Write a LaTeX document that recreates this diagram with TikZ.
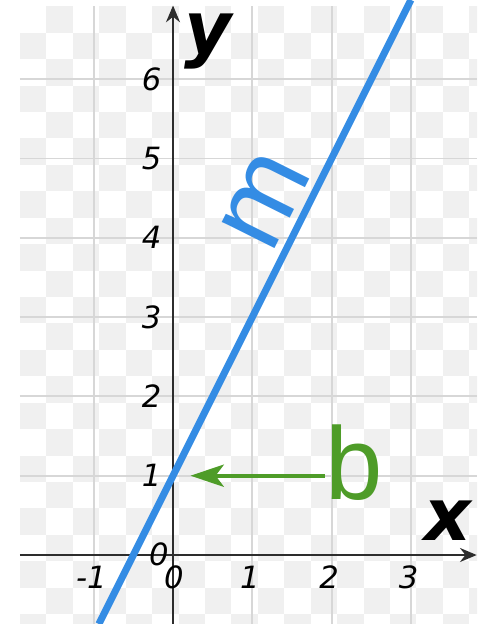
\documentclass[tikz,border=0pt]{standalone}
\usepackage{fontspec}
\setmainfont{Liberation Sans}
\newfontfamily\tickfont{DejaVu Sans}
\usetikzlibrary{arrows.meta}
\definecolor{lineblue}{RGB}{52,140,228}
\definecolor{bgreen}{RGB}{78,156,40}
\definecolor{gridgray}{RGB}{215,215,215}
\definecolor{checkgray}{RGB}{240,240,240}
\definecolor{axisgray}{RGB}{45,45,45}
\tikzset{
  gridline/.style={gridgray,line width=0.7pt},
  axisline/.style={axisgray,line width=0.9pt,-{Stealth[length=6pt,width=5pt]}},
  ticklabel/.style={inner sep=0pt,font=\tickfont\itshape\fontsize{11}{13}\selectfont},
  axislabel/.style={inner sep=0pt,font=\tickfont\bfseries\itshape\fontsize{26}{30}\selectfont},
  biglabel/.style={inner sep=0pt,font=\fontsize{37}{40}\selectfont},
  barrow/.style={bgreen,line width=1.3pt,-{Stealth[length=12pt,width=8pt,inset=3pt]}}
}
\begin{document}
\begin{tikzpicture}
\useasboundingbox (-2.182,-0.870) rectangle (3.834,6.999);
% checkered background
\begin{scope}
\clip (-1.93,-0.87) rectangle (3.834,6.92);
\foreach \i in {0,...,17}
  \foreach \j in {0,...,23}{
    \pgfmathtruncatemacro\odd{mod(\i+\j,2)}
    \ifnum\odd=1 \fill[checkgray] ({-1.93+\i/3},{6.92-(\j+1)/3}) rectangle +(1/3,1/3);\fi
  }
\end{scope}
% grid
\foreach \x in {-1,1,2,3} \draw[gridline] (\x,-0.87) -- (\x,6.92);
\foreach \y in {1,...,6} \draw[gridline] (-1.93,\y) -- (3.834,\y);
% axes
\coordinate (xstart) at (-1.93,0);
\coordinate (xend) at (3.83,0);
\coordinate (ystart) at (0,-0.87);
\coordinate (yend) at (0,6.93);
\draw[axisline] (xstart) -- (xend);
\draw[axisline] (ystart) -- (yend);
\node[axislabel] (xlab) at (3.46,0.43) {x};
\node[axislabel] (ylab) at (0.44,6.48) {y};
% tick labels
\foreach \y in {1,...,6} \node[ticklabel] (ytick\y) at (-0.27,\y) {\y};
\foreach \x/\n in {-1/m1,1/1,2/2,3/3} \node[ticklabel] (xtick\n) at (\x-0.03,-0.28) {\x};
\node[ticklabel] (zeroup) at (-0.18,0.01) {0};
\node[ticklabel] (zerodown) at (0.01,-0.28) {0};
% the line y = 2x+1
\coordinate (lstart) at (-0.935,-0.87);
\coordinate (lend) at (3.0,7.0);
\draw[lineblue,line width=2.5pt] (lstart) -- (lend);
\node[biglabel,text=lineblue,rotate=63.43,font=\fontsize{40}{44}\selectfont] (m) at (1.16,4.47) {m};
% intercept
\node[biglabel,text=bgreen] (b) at (2.28,1.17) {b};
\coordinate (bend) at (0.22,1);
\draw[barrow] (b.west |- bend) -- (bend);
\end{tikzpicture}
\end{document}
